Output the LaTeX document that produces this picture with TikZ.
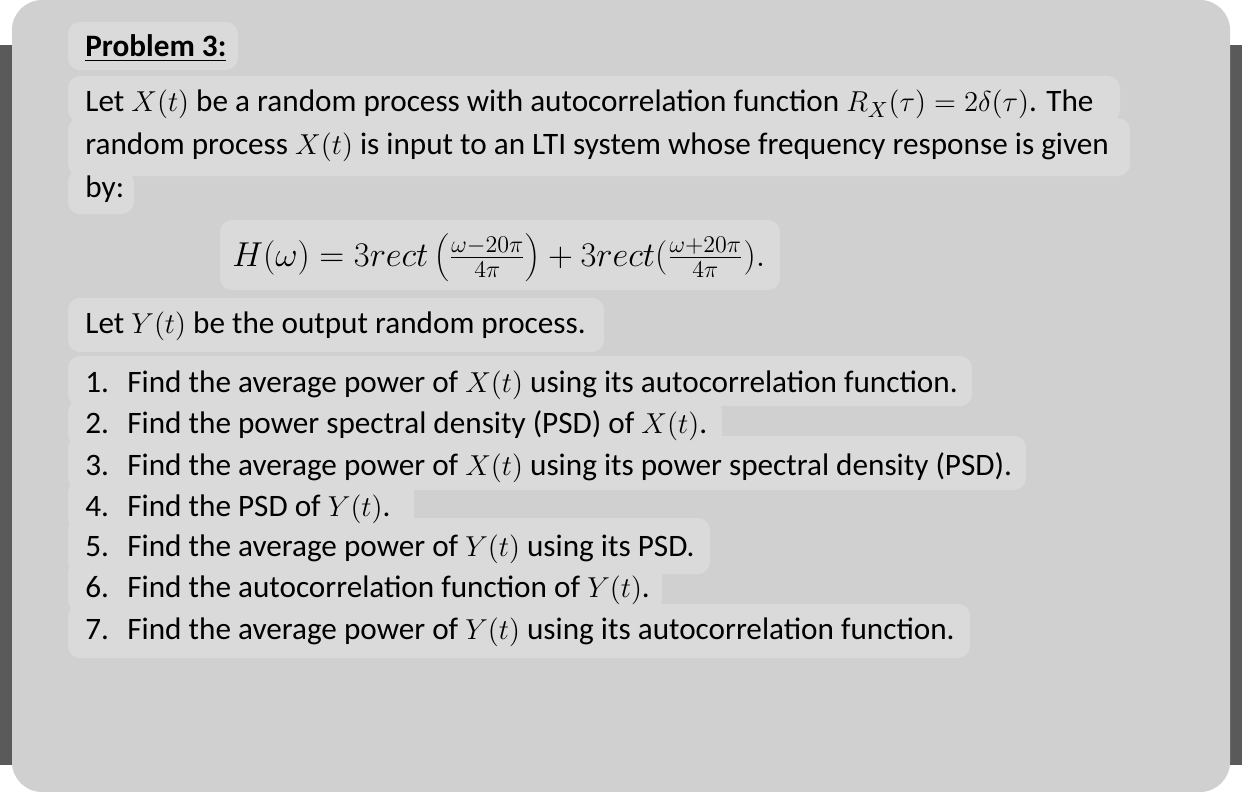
\documentclass[tikz,border=0pt]{standalone}
\usepackage{fontspec}
\setmainfont{Carlito}
\definecolor{bg}{HTML}{D0D0D0}
\definecolor{hl}{HTML}{DADADA}
\definecolor{bar}{HTML}{5A5A5A}
\begin{document}
\begin{tikzpicture}[x=0.5pt,y=-0.5pt,
  txt/.style={anchor=base west,inner sep=0pt,font=\fontsize{15.6}{18}\selectfont},
  hbox/.style={fill=hl,rounded corners=6pt}]
\useasboundingbox (0,0) rectangle (1242,792);
\fill[white] (0,0) rectangle (1242,792);
\fill[bar] (0,45) rectangle (1242,765);
\fill[bg,rounded corners=15pt] (12,0) rectangle (1230,792);
% highlight boxes
\fill[hbox] (68,22) rectangle (238,70);
\fill[hbox] (68,76) rectangle (1120,122);
\fill[hbox] (68,118) rectangle (1130,176);
\fill[hbox] (68,170) rectangle (134,214);
\fill[hbox] (220,220) rectangle (780,290);
\fill[hbox] (68,298) rectangle (604,352);
\fill[hbox] (68,356) rectangle (972,406);
\fill[hbox] (68,400) rectangle (722,446);
\fill[hbox] (68,436) rectangle (1026,490);
\fill[hbox] (68,480) rectangle (414,530);
\fill[hbox] (68,518) rectangle (710,574);
\fill[hbox] (68,560) rectangle (662,612);
\fill[hbox] (68,604) rectangle (970,658);
% text
\node[txt] (p) at (85,57) {\underline{\textbf{Problem 3:}}};
\node[txt] (l1) at (85,112) {Let $X(t)$ be a random process with autocorrelation function $R_X(\tau)=2\delta(\tau)$. The};
\node[txt] (l2) at (85,155) {random process $X(t)$ is input to an LTI system whose frequency response is given};
\node[txt] (l3) at (85,198) {by:};
\node[txt,font=\fontsize{18}{21}\selectfont] (eq) at (232,266) {$H(\omega)=3rect\left(\frac{\omega-20\pi}{4\pi}\right)+3rect(\frac{\omega+20\pi}{4\pi}).$};
\node[txt] (l4) at (85,333) {Let $Y(t)$ be the output random process.};
\foreach \n/\y/\t in {
 1/392/{Find the average power of $X(t)$ using its autocorrelation function.},
 2/433/{Find the power spectral density (PSD) of $X(t)$.},
 3/475/{Find the average power of $X(t)$ using its power spectral density (PSD).},
 4/516/{Find the PSD of $Y(t)$.},
 5/556/{Find the average power of $Y(t)$ using its PSD.},
 6/597/{Find the autocorrelation function of $Y(t)$.},
 7/639/{Find the average power of $Y(t)$ using its autocorrelation function.}}{
  \node[txt] (n\n) at (85,\y) {\n.};
  \node[txt] (t\n) at (127,\y) {\t};
}
\end{tikzpicture}
\end{document}
